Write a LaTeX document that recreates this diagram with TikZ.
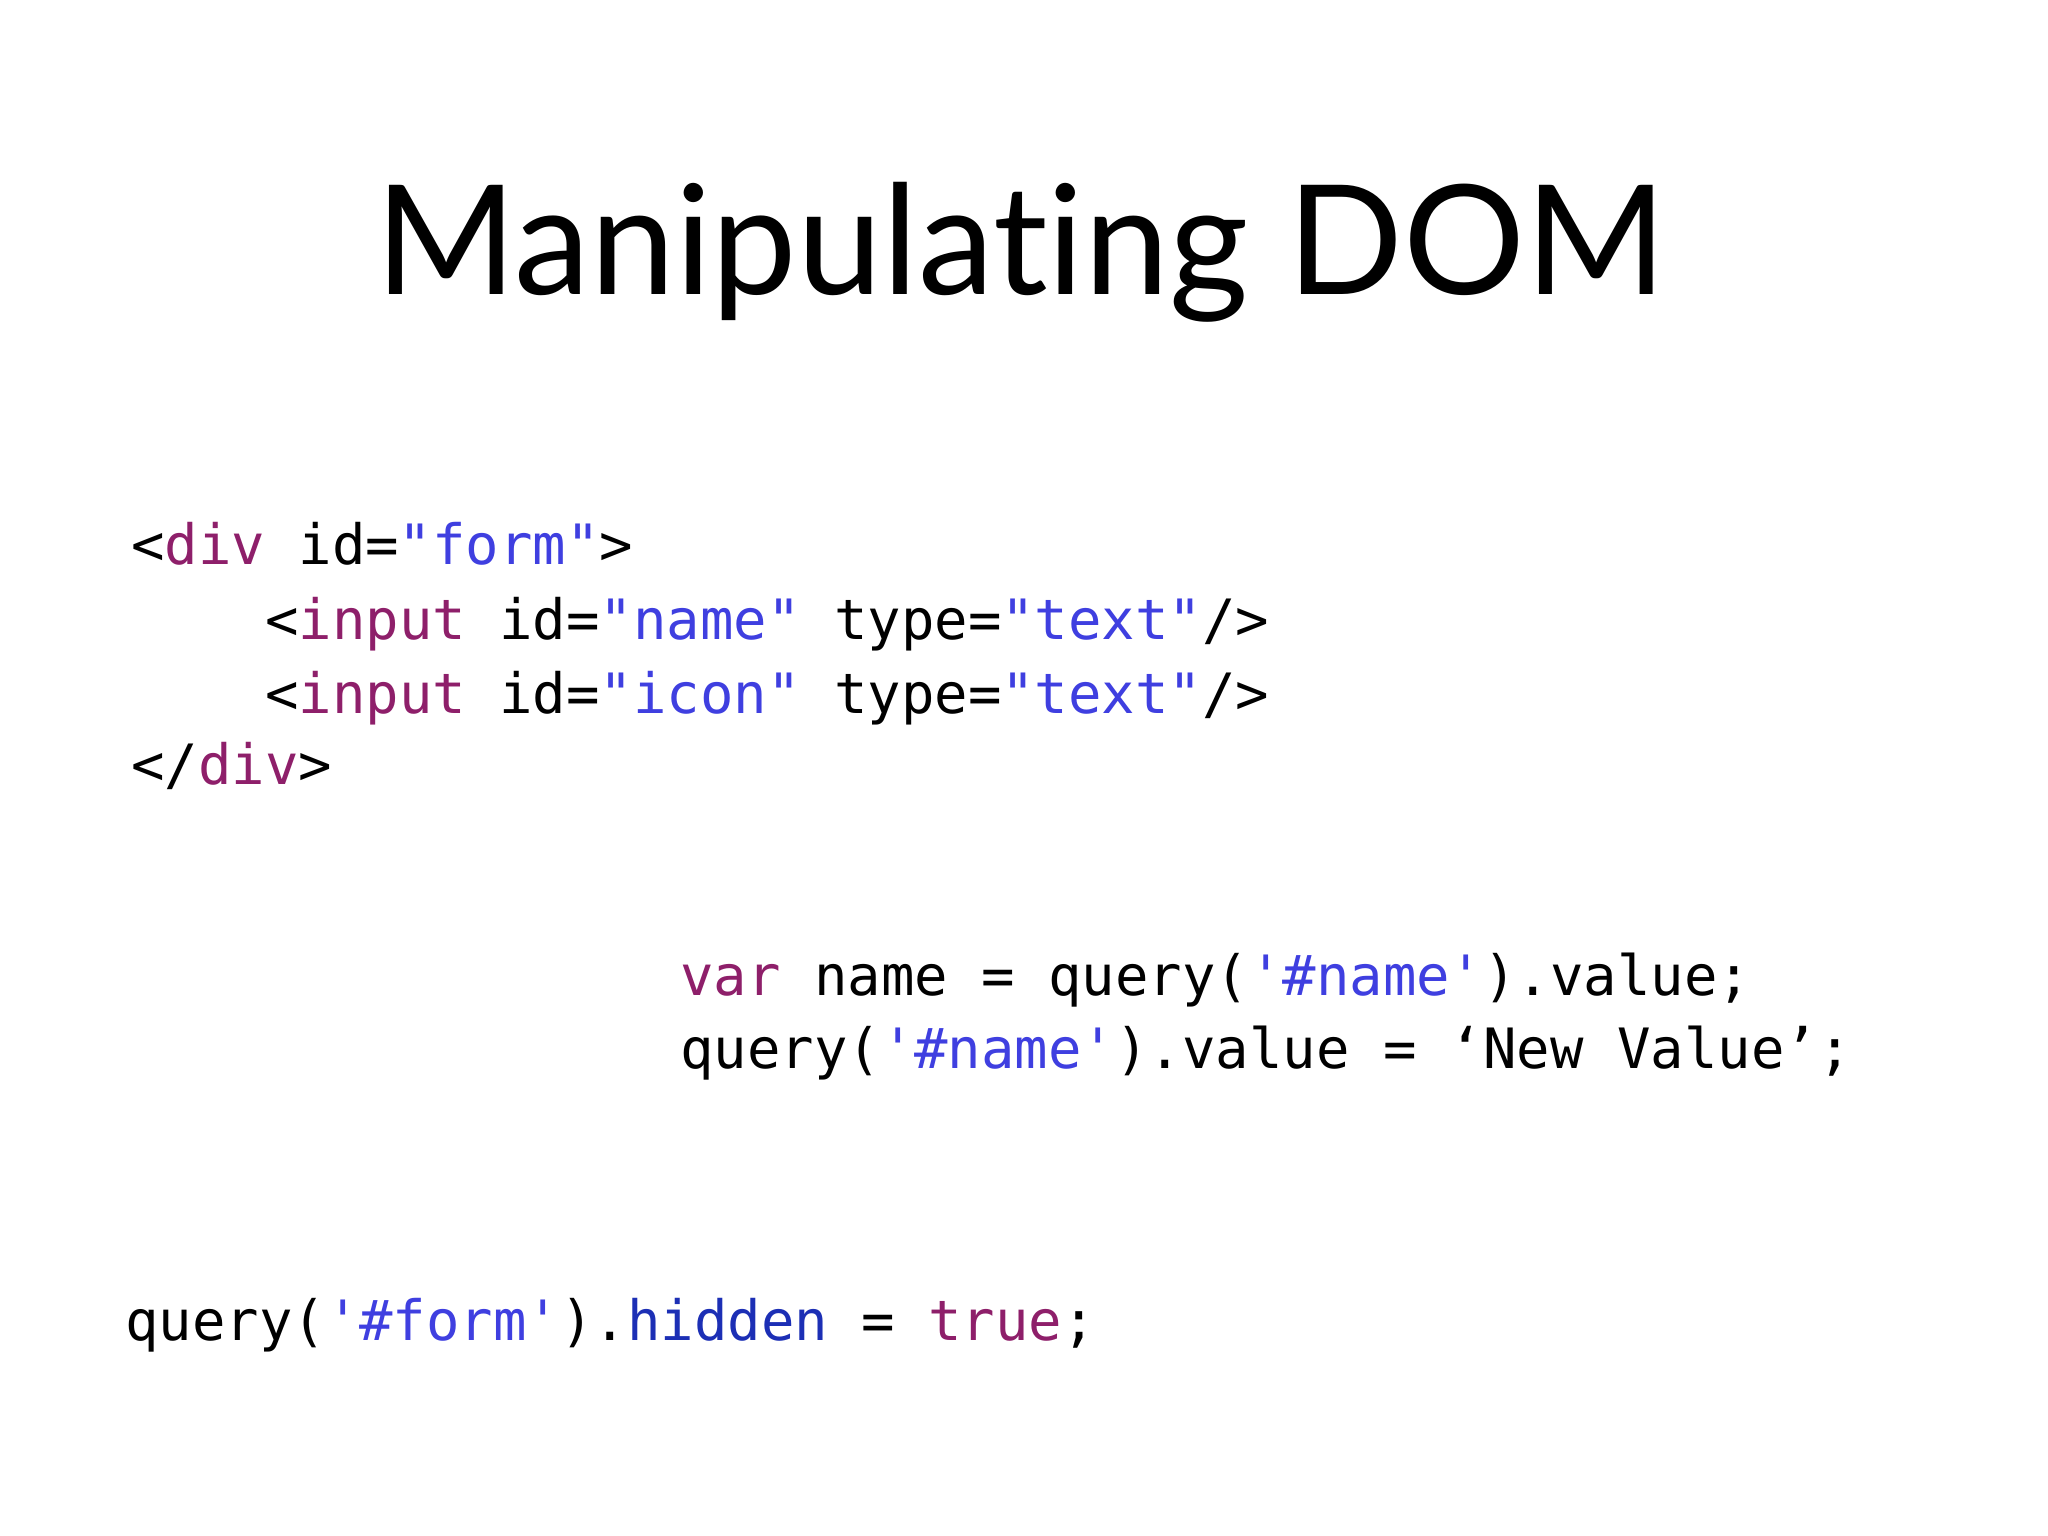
\documentclass[tikz,border=0pt]{standalone}
\usepackage{fontspec}
\setmainfont[Ligatures={NoCommon,NoRare}]{Lato}
\newfontfamily\code{DejaVu Sans Mono}
\definecolor{kw}{HTML}{8E1F6A}
\definecolor{st}{HTML}{3F3FE0}
\definecolor{pr}{HTML}{1C2FB5}
\newcommand{\K}[1]{\textcolor{kw}{#1}}
\newcommand{\Sg}[1]{\textcolor{st}{#1}}
\newcommand{\Pp}[1]{\textcolor{pr}{#1}}
\begin{document}
\begin{tikzpicture}[x=1bp,y=1bp,
  codeln/.style={anchor=base west,inner sep=0,font=\code\fontsize{55.8}{60}\selectfont}]
\useasboundingbox (0,0) rectangle (2048,-1536);
\fill[white] (0,0) rectangle (2048,-1536);
\node[anchor=base,inner sep=0,font=\fontsize{153}{163}\selectfont] (title) at (1021,-294) {Manipulat\kern0pt ing DOM};
\node[codeln] (l1) at (131,-564) {<\K{div} id=\Sg{"form"}>};
\node[codeln] (l2) at (265,-639) {<\K{input} id=\Sg{"name"} type=\Sg{"text"}/>};
\node[codeln] (l3) at (265,-713) {<\K{input} id=\Sg{"icon"} type=\Sg{"text"}/>};
\node[codeln] (l4) at (131,-784) {</\K{div}>};
\node[codeln] (v1) at (680,-995) {\K{var} name = query(\Sg{'\#name'}).value;};
\node[codeln] (v2) at (680,-1068) {query(\Sg{'\#name'}).value = ‘New Value’;};
\node[codeln] (h1) at (125,-1340) {query(\Sg{'\#form'}).\Pp{hidden} = \K{true};};
\end{tikzpicture}
\end{document}
